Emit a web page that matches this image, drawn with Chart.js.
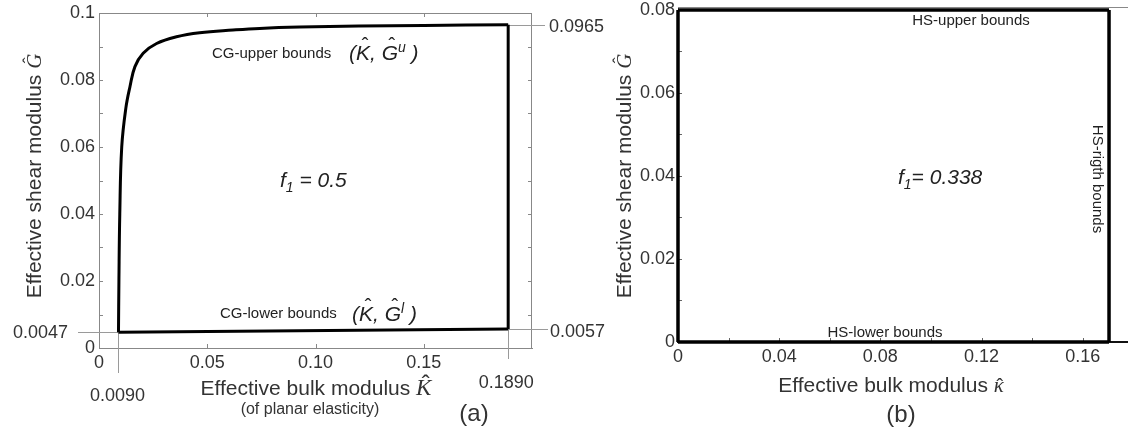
<!DOCTYPE html>
<html><head><meta charset="utf-8">
<script src="https://cdn.jsdelivr.net/npm/chart.js@4/dist/chart.umd.min.js"></script>
<style>
html,body{margin:0;padding:0;background:#fff;overflow:hidden;}
#wrap{position:relative;width:1128px;height:436px;background:#fff;}
canvas{position:absolute;top:0;}
#ca{left:0;width:620px;height:436px;}
#cb{left:600px;width:528px;height:436px;}
</style></head><body>
<div id="wrap"><canvas id="ca" width="620" height="436"></canvas><canvas id="cb" width="528" height="436"></canvas></div>
<script>
// ---------- Panel (a) data ----------
const aUpperK = [0.0090, 0.0092, 0.0096, 0.0105, 0.0124, 0.0143, 0.0166, 0.0204, 0.0266, 0.0358, 0.0465, 0.0619, 0.0742, 0.0927, 0.1200, 0.1500, 0.1890];
const aUpperG = [0.0047, 0.0200, 0.0400, 0.0600, 0.0716, 0.0780, 0.0840, 0.0880, 0.0909, 0.0929, 0.0941, 0.0949, 0.0954, 0.0958, 0.0961, 0.0963, 0.0965];
const aLowerK = [0.0090, 0.1890];
const aLowerG = [0.0047, 0.0057];
const aRightK = [0.1890, 0.1890];
const aRightG = [0.0057, 0.0965];
const aXTicks = [0, 0.05, 0.10, 0.15];
const aXTickLabels = ['0', '0.05', '0.10', '0.15'];
const aYTicks = [0, 0.01, 0.02, 0.03, 0.04, 0.05, 0.06, 0.07, 0.08, 0.09, 0.10];
const aYTickLabels = ['0', '', '0.02', '', '0.04', '', '0.06', '', '0.08', '', '0.1'];
const aMarkK = [0.0090, 0.1890];
const aMarkKLabels = ['0.0090', '0.1890'];
const aMarkG = [0.0047, 0.0057, 0.0965];
const aMarkGLabels = ['0.0047', '0.0057', '0.0965'];

// ---------- Panel (b) data ----------
const bUpperK = [0, 0.1704];
const bUpperG = [0.08, 0.08];
const bRightK = [0.1704, 0.1704];
const bRightG = [0, 0.08];
const bLowerK = [0, 0.1704];
const bLowerG = [0, 0];
const bLeftK = [0, 0];
const bLeftG = [0, 0.08];
const bXTicks = [0, 0.02, 0.04, 0.06, 0.08, 0.10, 0.12, 0.14, 0.16];
const bXTickLabels = ['0', '', '0.04', '', '0.08', '', '0.12', '', '0.16'];
const bYTicks = [0, 0.01, 0.02, 0.03, 0.04, 0.05, 0.06, 0.07, 0.08];
const bYTickLabels = ['0', '', '0.02', '', '0.04', '', '0.06', '', '0.08'];

const TXT = '#333';
const FRAME = '#888';
const SANS = '"Liberation Sans", Arial, sans-serif';
const SERIF = '"Liberation Serif", "DejaVu Serif", serif';

function pts(K, G) { return K.map((k, i) => ({x: k, y: G[i]})); }
function seg(ctx, x1, y1, x2, y2) { ctx.beginPath(); ctx.moveTo(x1, y1); ctx.lineTo(x2, y2); ctx.stroke(); }
function rich(ctx, parts, x, y, align) {
  let total = 0;
  parts.forEach(p => { ctx.font = p.f; p.w = ctx.measureText(p.t).width; total += p.w; });
  let cx = align === 'center' ? x - total / 2 : (align === 'right' ? x - total : x);
  ctx.textAlign = 'left';
  parts.forEach(p => {
    ctx.font = p.f; ctx.fillText(p.t, cx, y + (p.dy || 0));
    if (p.hat) { ctx.textAlign = 'center'; ctx.font = p.hat; ctx.fillText('\u02C6', cx + p.w / 2 + (p.hx || 0), y + (p.hy || 0)); ctx.textAlign = 'left'; }
    cx += p.w;
  });
}
function ds(label, K, G, w, extra) {
  return Object.assign({label, data: pts(K, G), showLine: true, borderColor: '#000', backgroundColor: '#000',
    borderWidth: w, pointRadius: 0, pointHoverRadius: 0, clip: false, tension: 0}, extra || {});
}
function axis(min, max, size, isX, tickVals, tickLabels, pad, borderColor, borderWidth) {
  return {
    type: 'linear', min, max,
    afterFit(s) {
      if (isX) { s.height = size; s.paddingLeft = 0; s.paddingRight = 0; }
      else { s.width = size; s.paddingTop = 0; s.paddingBottom = 0; }
    },
    afterBuildTicks(s) { s.ticks = tickVals.map(v => ({value: v})); },
    ticks: {autoSkip: false, maxRotation: 0, minRotation: 0, padding: pad, color: TXT,
      font: {family: SANS, size: 18},
      callback: (v) => { const i = tickVals.findIndex(t => Math.abs(t - v) < 1e-9); return i < 0 ? '' : tickLabels[i]; }},
    grid: {display: false, drawTicks: false},
    border: {display: true, color: borderColor, width: borderWidth}
  };
}

// ---------- Panel (a) decorations ----------
const plugA = {
  id: 'decoA',
  beforeDatasetsDraw(chart) {
    const {ctx, chartArea: a, scales: {x, y}} = chart;
    ctx.save();
    ctx.strokeStyle = FRAME; ctx.lineWidth = 1;
    seg(ctx, a.left, a.top + 0.5, a.right, a.top + 0.5);
    seg(ctx, a.right - 0.5, a.top, a.right - 0.5, a.bottom);
    aXTicks.forEach(v => { const p = Math.round(x.getPixelForValue(v)) + 0.5;
      seg(ctx, p, a.bottom, p, a.bottom - 4); seg(ctx, p, a.top, p, a.top + 4); });
    aYTicks.forEach(v => { const p = Math.round(y.getPixelForValue(v)) + 0.5;
      seg(ctx, a.left, p, a.left + 4, p); seg(ctx, a.right, p, a.right - 4, p); });
    // reference lines
    ctx.strokeStyle = '#9a9a9a';
    const k0 = x.getPixelForValue(aMarkK[0]), k1 = x.getPixelForValue(aMarkK[1]);
    const g0 = y.getPixelForValue(aMarkG[0]), g1 = y.getPixelForValue(aMarkG[1]), g2 = y.getPixelForValue(aMarkG[2]);
    seg(ctx, 78, Math.round(g0) + 0.5, k0, Math.round(g0) + 0.5);
    seg(ctx, Math.round(k0) + 0.5, g0, Math.round(k0) + 0.5, 373);
    seg(ctx, Math.round(k1) + 0.5, g1, Math.round(k1) + 0.5, 359);
    seg(ctx, k1, Math.round(g1) + 0.5, 548, Math.round(g1) + 0.5);
    seg(ctx, k1, Math.round(g2) + 0.5, 545, Math.round(g2) + 0.5);
    ctx.fillStyle = TXT; ctx.font = '18px ' + SANS; ctx.textBaseline = 'middle';
    ctx.textAlign = 'right'; ctx.fillText(aMarkGLabels[0], 68, g0 + 1);
    ctx.textAlign = 'left'; ctx.fillText(aMarkGLabels[1], 550, g1 + 3);
    ctx.fillText(aMarkGLabels[2], 549, g2 + 2);
    ctx.textAlign = 'center'; ctx.fillText(aMarkKLabels[0], k0 - 1, 396);
    ctx.fillText(aMarkKLabels[1], k1 - 2, 383);
    // texts
    ctx.textBaseline = 'alphabetic'; ctx.fillStyle = '#222';
    ctx.textAlign = 'left'; ctx.font = '15px ' + SANS;
    ctx.fillText('CG-upper bounds', 212, 58);
    ctx.fillText('CG-lower bounds', 220, 318);
    const it = 'italic 21px ' + SANS, itS = 'italic 14px ' + SANS, hatF = '20px ' + SANS;
    rich(ctx, [{t: '(', f: it}, {t: 'K', f: it, hat: hatF, hy: -8, hx: 2}, {t: ', ', f: it}, {t: 'G', f: it, hat: hatF, hy: -8, hx: 2},
      {t: 'u', f: itS, dy: -8}, {t: ' )', f: it}], 349, 60, 'left');
    rich(ctx, [{t: '(', f: it}, {t: 'K', f: it, hat: hatF, hy: -8, hx: 2}, {t: ', ', f: it}, {t: 'G', f: it, hat: hatF, hy: -8, hx: 2},
      {t: 'l', f: itS, dy: -8}, {t: ' )', f: it}], 352, 321, 'left');
    rich(ctx, [{t: 'f', f: it}, {t: '1', f: itS, dy: 5}, {t: ' = 0.5', f: it}], 280, 187, 'left');
    // axis titles
    ctx.fillStyle = TXT;
    rich(ctx, [{t: 'Effective bulk modulus ', f: '21px ' + SANS}, {t: 'K', f: 'italic 23px ' + SERIF, hat: '24px ' + SANS, hy: -3, hx: 2}], 316, 395, 'center');
    ctx.textAlign = 'center'; ctx.font = '16px ' + SANS; ctx.fillText('(of planar elasticity)', 310, 414);
    ctx.font = '24px ' + SANS; ctx.fillText('(a)', 474, 421);
    ctx.save(); ctx.translate(41, 176); ctx.rotate(-Math.PI / 2);
    rich(ctx, [{t: 'Effective shear modulus ', f: '21px ' + SANS}, {t: 'G', f: 'italic 21px ' + SERIF, hat: '18px ' + SANS, hy: -5, hx: 1}], 0, 0, 'center');
    ctx.restore();
    ctx.restore();
  }
};

// ---------- Panel (b) decorations ----------
const OX = 600;
const plugB = {
  id: 'decoB',
  beforeDatasetsDraw(chart) {
    const {ctx, chartArea: a, scales: {x, y}} = chart;
    ctx.save();
    ctx.strokeStyle = FRAME; ctx.lineWidth = 1;
    seg(ctx, a.left, a.top + 0.5, a.right, a.top + 0.5);
    ctx.strokeStyle = '#666';
    bXTicks.forEach(v => { const p = Math.round(x.getPixelForValue(v)) + 0.5; seg(ctx, p, a.bottom, p, a.bottom - 4); });
    bYTicks.forEach(v => { const p = Math.round(y.getPixelForValue(v)) + 0.5; seg(ctx, a.left, p, a.left + 4, p); });
    ctx.fillStyle = '#222'; ctx.textBaseline = 'alphabetic';
    ctx.font = '15px ' + SANS; ctx.textAlign = 'center';
    ctx.fillText('HS-upper bounds', 971 - OX, 25);
    ctx.fillText('HS-lower bounds', 885 - OX, 337);
    ctx.save(); ctx.translate(1097 - OX, 179); ctx.rotate(Math.PI / 2);
    ctx.textBaseline = 'middle'; ctx.fillText('HS-rigth bounds', 0, 0); ctx.restore();
    ctx.textBaseline = 'alphabetic';
    const it = 'italic 21px ' + SANS, itS = 'italic 14px ' + SANS;
    rich(ctx, [{t: 'f', f: it}, {t: '1', f: itS, dy: 5}, {t: '= 0.338', f: it}], 898 - OX, 184, 'left');
    ctx.fillStyle = TXT;
    rich(ctx, [{t: 'Effective bulk modulus ', f: '21px ' + SANS}, {t: '\u03BA', f: 'italic 21px ' + SERIF, hat: '20px ' + SANS, hy: 1, hx: 1}], 891 - OX, 392, 'center');
    ctx.textAlign = 'center'; ctx.font = '24px ' + SANS; ctx.fillText('(b)', 901 - OX, 422);
    ctx.save(); ctx.translate(631 - OX, 176); ctx.rotate(-Math.PI / 2);
    rich(ctx, [{t: 'Effective shear modulus ', f: '21px ' + SANS}, {t: 'G', f: 'italic 21px ' + SERIF, hat: '18px ' + SANS, hy: -5, hx: 1}], 0, 0, 'center');
    ctx.restore();
    ctx.restore();
  }
};

const common = {responsive: false, animation: false, devicePixelRatio: 1,
  plugins: {legend: {display: false}, tooltip: {enabled: false}}, events: []};

new Chart(document.getElementById('ca'), {
  type: 'scatter',
  data: {datasets: [
    ds('CG-upper bounds', aUpperK, aUpperG, 3, {tension: 0.4}),
    ds('right', aRightK, aRightG, 3),
    ds('CG-lower bounds', aLowerK, aLowerG, 3)
  ]},
  options: Object.assign({}, common, {
    layout: {padding: {top: 13, right: 88, left: 0, bottom: 0}},
    scales: {
      x: axis(0, 0.2, 88, true, aXTicks, aXTickLabels, 4, FRAME, 1),
      y: axis(0, 0.1, 99, false, aYTicks, aYTickLabels, 4, FRAME, 1)
    }
  }),
  plugins: [plugA]
});

new Chart(document.getElementById('cb'), {
  type: 'scatter',
  data: {datasets: [
    ds('HS-upper bounds', bUpperK, bUpperG, 3.5),
    ds('HS-rigth bounds', bRightK, bRightG, 3.5),
    ds('HS-lower bounds', bLowerK, bLowerG, 3.5),
    ds('left', bLeftK, bLeftG, 3.5)
  ]},
  options: Object.assign({}, common, {
    layout: {padding: {top: 7, right: 0, left: 0, bottom: 0}},
    scales: {
      x: axis(0, 0.1779, 94, true, bXTicks, bXTickLabels, 4, '#111', 2),
      y: axis(0, 0.0807, 78, false, bYTicks, bYTickLabels, 3, FRAME, 1)
    }
  }),
  plugins: [plugB]
});
</script>
</body></html>
